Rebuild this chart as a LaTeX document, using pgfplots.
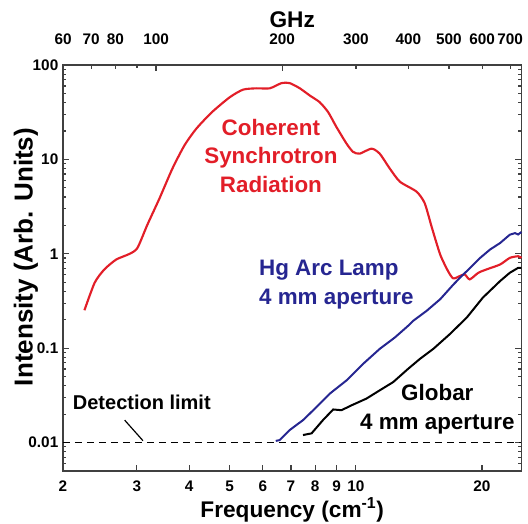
\documentclass[border=0pt]{standalone}
\usepackage{fontspec}
\setmainfont{Liberation Sans}
\usepackage{pgfplots}
\pgfplotsset{compat=1.18}
\definecolor{csrred}{RGB}{226,30,40}
\definecolor{hgblue}{RGB}{38,38,145}
\newcommand{\tickfont}{\fontsize{11.5}{13}\selectfont\bfseries}
\newcommand{\annfont}{\fontsize{16.8}{21.5}\selectfont\bfseries}
\newcommand{\labfont}{\fontsize{17}{20}\selectfont\bfseries}

\pgfplotsset{
  common/.style={
    width=343.9pt, height=304.5pt, scale only axis,
    tick align=inside,
    major tick length=4.5pt, minor tick length=2.5pt,
    tick style={black!75, line width=0.9pt},
    axis line style={black!75, line width=1.1pt},
    tick label style={font=\tickfont},
    /pgf/number format/assume math mode=true,
    clip=false,
  },
}

\begin{document}
\begin{tikzpicture}
\begin{axis}[
  common, name=main,
  xmode=log, ymode=log,
  xmin=2, xmax=24.85, ymin=0.005, ymax=100,
  xtick={2,3,4,5,6,7,8,9,10,20},
  xticklabels={2,3,4,5,6,7,8,9,10,20},
  xticklabel style={yshift=-3.75pt},
  ytick={0.01,0.1,1,10,100},
  yticklabels={0.01,0.1,1,10,100},
  minor ytick={0.005,0.006,0.007,0.008,0.009,0.02,0.03,0.04,0.05,0.06,0.07,0.08,0.09,0.2,0.3,0.4,0.5,0.6,0.7,0.8,0.9,2,3,4,5,6,7,8,9,20,30,40,50,60,70,80,90},
  xtick pos=bottom, ytick pos=both,
]
% detection limit
\addplot[black, line width=1.1pt, dash pattern=on 5.25pt off 3.75pt] coordinates {(2,0.01)(24.85,0.01)};
\addplot[black, line width=0.9pt] coordinates {(2.807,0.01726)(3.104,0.01045)};

% coherent synchrotron radiation
\addplot[csrred, line width=1.6pt, smooth, tension=0.4] coordinates {
 (2.25,0.252)(2.38,0.493)(2.51,0.682)(2.68,0.869)(2.88,0.995)(3.01,1.15)
 (3.18,2.03)(3.40,3.87)(3.65,8.0)(3.90,14.1)(4.16,21.1)(4.53,31.5)
 (5.00,45.5)(5.38,54.8)(5.79,56.6)(6.23,56.6)(6.65,64.3)(6.95,64.3)
 (7.35,56.6)(7.77,47.4)(8.20,40.3)(8.59,31.6)(8.99,22.0)(9.50,14.7)
 (9.85,12.0)(10.22,11.5)(10.9,13.0)(11.4,11.5)(12.05,8.0)(12.74,5.80)
 (13.96,4.55)(14.6,3.43)(15.2,1.87)(15.9,0.98)(16.6,0.654)(17.08,0.548)
 (17.7,0.580)(18.2,0.604)(18.7,0.535)(19.6,0.628)(20.5,0.682)(22.1,0.770)
 (23.3,0.903)(24.4,0.941)(24.85,0.903)};

% Hg arc lamp
\addplot[hgblue, line width=1.5pt] coordinates {
 (6.44,0.0104)(6.58,0.0106)(6.95,0.01354)(7.48,0.01726)(8.06,0.0238)
 (8.67,0.033)(9.50,0.0455)(10.41,0.0682)(11.4,0.0981)(12.4,0.130)
 (13.33,0.1725)(13.71,0.195)(14.75,0.248)(15.9,0.330)(17.08,0.47)
 (17.88,0.58)(18.4,0.654)(19.8,0.903)(20.9,1.107)(22.1,1.30)(23.3,1.59)
 (23.98,1.655)(24.4,1.60)(24.85,1.70)};

% globar
\addplot[black, line width=1.5pt] coordinates {
 (7.48,0.0120)(7.84,0.0125)(8.35,0.0173)(8.83,0.0224)(9.24,0.0220)
 (9.77,0.0248)(10.6,0.0292)(11.4,0.0357)(12.28,0.0437)(13.33,0.0604)
 (14.22,0.0769)(15.3,0.098)(16.77,0.141)(18.4,0.211)(20.1,0.343)
 (22.1,0.514)(23.3,0.628)(24.4,0.709)(24.85,0.709)};

\node[text=csrred, font=\annfont, align=center] at (axis cs:6.27,10.9) {Coherent\\Synchrotron\\Radiation};
\node[text=hgblue, font=\annfont, align=left, anchor=west, inner sep=0pt] at (axis cs:5.87,0.472) {Hg Arc Lamp\\4 mm aperture};
\node[font=\annfont, align=center] at (axis cs:15.65,0.02253) {Globar\\4 mm aperture};
\node[font=\fontsize{15}{17}\selectfont\bfseries, anchor=west, inner sep=0pt] at (axis cs:2.109,0.02669) {Detection limit};

\node[font=\labfont] at (rel axis cs:0.5,0) [yshift=-29.3pt] {Frequency (cm\textsuperscript{-1})};
\node[font=\fontsize{19.5}{21}\selectfont\bfseries, xshift=-27.75pt, rotate=90] at (rel axis cs:0,0.527) {Intensity (Arb. Units)};
\end{axis}

\begin{axis}[
  common,
  xmode=log, xmin=59.958, xmax=744.98, ymin=0, ymax=1,
  axis x line*=top, axis y line=none,
  xtick={100,200}, xticklabels={100,200},
  extra x ticks={60,70,80,300,400,500,600,700},
  extra x tick labels={60,70,80,300,400,500,600,700},
  extra x tick style={major tick length=3pt},
  xticklabel style={yshift=12pt},
  minor xtick={90},
]
\addplot[draw=none] coordinates {(100,0.5)};
\node[font=\labfont] at (rel axis cs:0.5,1) [yshift=33.75pt] {GHz};
\end{axis}

\pgfresetboundingbox
\path[use as bounding box] ([xshift=-47.25pt,yshift=-39.75pt]main.south west) rectangle ([xshift=4.9pt,yshift=48.75pt]main.north east);
\end{tikzpicture}
\end{document}
